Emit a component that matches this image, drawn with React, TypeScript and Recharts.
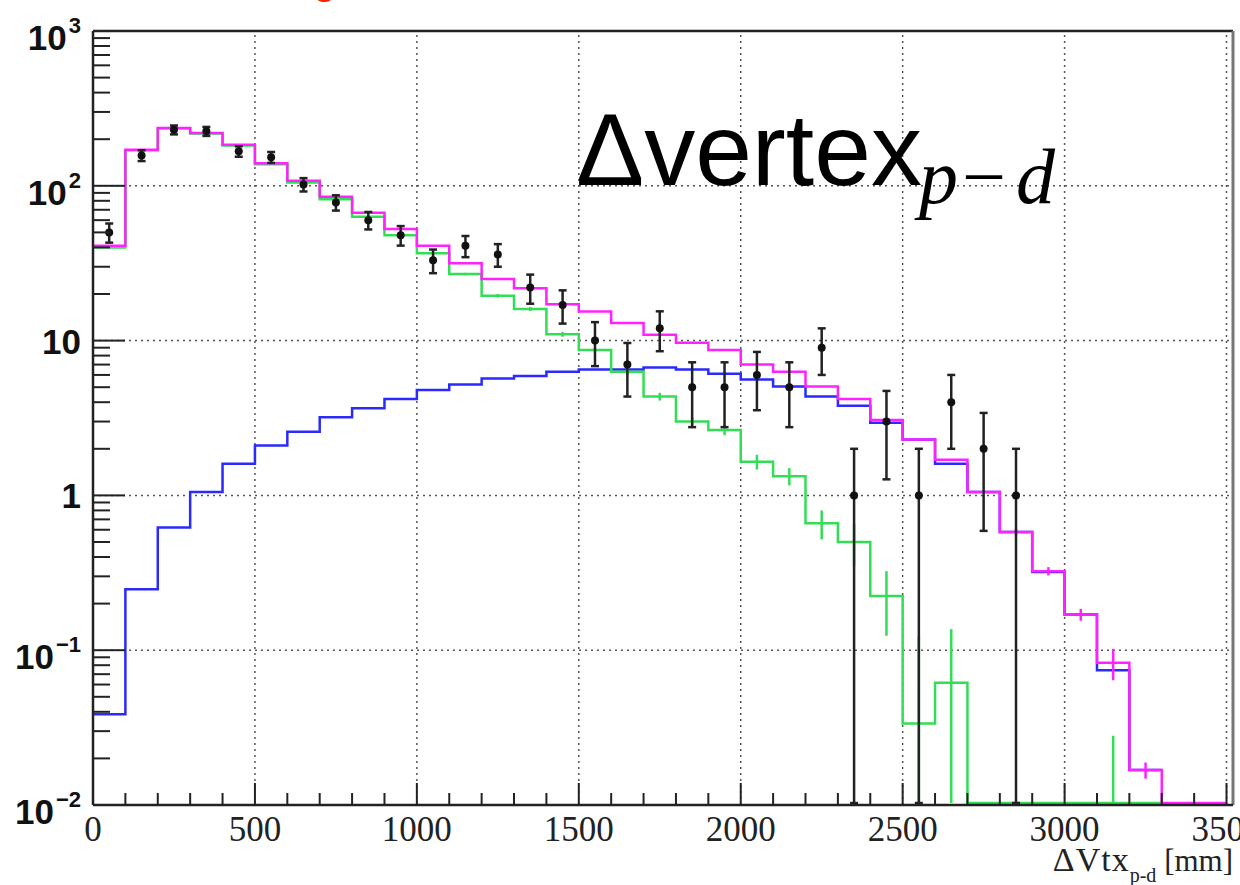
import { ComposedChart, Line, Scatter, ErrorBar, XAxis, YAxis, ReferenceLine } from 'recharts'

const BIN_W = 100
const X_MAX = 3520
const Y_MIN = 0.01
const Y_MAX = 1000
// empty bins are drawn just above the bottom axis so they stay visible
const FLOOR = 0.0103

// total prediction (magenta), bins of 100 mm from 0 to 3500
const totalVals = [
  41, 171, 236, 219, 184, 140, 108, 85, 67, 52.5,
  41, 31.6, 25, 21.8, 17.2, 15.4, 13, 10.9, 9.7, 8.7,
  7.0, 6.3, 5.05, 4.2, 3.07, 2.3, 1.7, 1.05, 0.58, 0.324,
  0.17, 0.083, 0.0168, 0, 0,
]
const totalErr = [
  0, 0, 0, 0, 0, 0, 0, 0, 0, 0,
  0, 0, 0, 0, 0, 0, 0, 0, 0, 0,
  0, 0, 0, 0, 0, 0, 0, 0, 0.03, 0.02,
  0.015, 0.019, 0.002, 0, 0,
]

// green component, bins from 0 to 3300
const greenVals = [
  40, 170, 235, 218, 182, 138, 105, 82, 63, 48,
  36.7, 26.9, 19.5, 16, 11, 8.7, 6.3, 4.35, 3.0, 2.65,
  1.65, 1.33, 0.66, 0.5, 0.224, 0.0336, 0.0617, 0, 0, 0,
  0, 0.005, 0,
]
const greenErr = [
  0, 0, 0, 0, 0, 0, 0, 0, 0, 0,
  0.5, 0.5, 0.5, 0.5, 0.4, 0.3, 0.3, 0.25, 0.2, 0.2,
  0.18, 0.17, 0.14, 0.15, 0.1, 0.09, 0.075, 0, 0, 0,
  0, 0.023, 0,
]

// blue component, bins from 0 to 3300
const blueVals = [
  0.0386, 0.248, 0.62, 1.05, 1.6, 2.1, 2.58, 3.2, 3.66, 4.2,
  4.8, 5.2, 5.7, 5.9, 6.3, 6.5, 6.5, 6.7, 6.5, 6.1,
  5.6, 5.05, 4.35, 3.8, 2.95, 2.3, 1.6, 1.05, 0.58, 0.32,
  0.17, 0.0743, 0.0168,
]

// data counts at bin centres (50, 150, ...) and their errors
const dataCounts = [
  50, 157, 230, 225, 167, 153, 102, 78, 60, 48,
  33, 41, 36, 22, 17, 10, 7, 12, 5, 5,
  6, 5, 9, 1, 3, 1, 4, 2, 1,
]
const dataErr = [
  7.07, 12.53, 15.17, 15, 12.92, 12.37, 10.1, 8.83, 7.75, 6.93,
  5.74, 6.4, 6, 4.69, 4.12, 3.16, 2.65, 3.46, 2.24, 2.24,
  2.45, 2.24, 3, 1, 1.73, 1, 2, 1.41, 1,
]

const xTickValues = Array.from({ length: 36 }, (_, i) => i * 100)
const xLabelled = [0, 500, 1000, 1500, 2000, 2500, 3000, 3500]
const yMajor = [0.01, 0.1, 1, 10, 100, 1000]
const yLabels: Record<string, { base: string; exp?: string }> = {
  '0.01': { base: '10', exp: '−2' },
  '0.1': { base: '10', exp: '−1' },
  '1': { base: '1' },
  '10': { base: '10' },
  '100': { base: '10', exp: '2' },
  '1000': { base: '10', exp: '3' },
}
const yTickValues: number[] = []
yMajor.forEach((d, i) => {
  yTickValues.push(d)
  if (i < yMajor.length - 1) for (let k = 2; k <= 9; k++) yTickValues.push(+(k * d).toPrecision(3))
})
const gridX = [500, 1000, 1500, 2000, 2500, 3000, 3500]
const gridY = [0.1, 1, 10, 100]

const toSteps = (vals: number[]) => [
  ...vals.map((v, i) => ({ x: i * BIN_W, y: Math.max(v, FLOOR) })),
  { x: vals.length * BIN_W, y: Math.max(vals[vals.length - 1], FLOOR) },
]

const toBars = (vals: number[], errs: number[]) =>
  vals
    .map((v, i) => {
      const yPlot = Math.max(v, FLOOR)
      const lo = Math.max(v - errs[i], FLOOR)
      const hi = v + errs[i]
      return { x: i * BIN_W + BIN_W / 2, y: yPlot, err: [Math.max(yPlot - lo, 0), Math.max(hi - yPlot, 0)], e: errs[i] }
    })
    .filter(p => p.e > 0)

const totalSteps = toSteps(totalVals)
const greenSteps = toSteps(greenVals)
const blueSteps = toSteps(blueVals)
const greenBars = toBars(greenVals, greenErr)
const totalBars = toBars(totalVals, totalErr)
const dataPoints = toBars(dataCounts, dataErr)

const AXIS = '#222'
const GRID = '#555'
const MAGENTA = '#ff22ff'
const BLUE = '#2a2aff'
const GREEN = '#33dd55'

const YTick = (props: any) => {
  const { x, y, payload } = props
  const v = payload.value
  const label = yLabels[String(v)]
  const major = !!label
  return (
    <g>
      <line x1={x} x2={x + (major ? 32 : 17)} y1={y} y2={y} stroke={AXIS} strokeWidth={2} />
      {label && !label.exp && (
        <text x={x - 12} y={y + 13} textAnchor="end" fontFamily="Liberation Sans, Arial" fontWeight="bold" fontSize={35} fill="#111">
          {label.base}
        </text>
      )}
      {label && label.exp && (
        <text x={x - 12} y={y + 19} textAnchor="end" fontFamily="Liberation Sans, Arial" fontWeight="bold" fontSize={35} fill="#111">
          <tspan>{label.base}</tspan>
          <tspan dy={-17} dx={2} fontSize={22}>{label.exp}</tspan>
        </text>
      )}
    </g>
  )
}

const XTick = (props: any) => {
  const { x, y, payload } = props
  const v = payload.value
  const major = v % 500 === 0
  return (
    <g>
      <line x1={x} x2={x} y1={y} y2={y - (major ? 22 : 12)} stroke={AXIS} strokeWidth={2} />
      {xLabelled.includes(v) && (
        <text x={x} y={y + 36} textAnchor="middle" fontFamily="Liberation Serif, Times New Roman" fontSize={35} fill="#222">
          {v}
        </text>
      )}
    </g>
  )
}

const Dot = (props: any) => {
  const { cx, cy } = props
  return <circle cx={cx} cy={cy} r={4} fill="#111" />
}
const NoDot = () => <g />

export default function App() {
  return (
    <div style={{ position: 'absolute', left: 0, top: 0, width: 1240, height: 885, background: '#fff', overflow: 'hidden' }}>
      <ComposedChart width={1240} height={885} margin={{ top: 31, right: 7, bottom: 0, left: 0 }}>
        <XAxis
          type="number"
          dataKey="x"
          domain={[0, X_MAX]}
          allowDataOverflow
          ticks={xTickValues}
          interval={0}
          tick={<XTick />}
          tickLine={false}
          tickSize={0}
          tickMargin={0}
          height={80}
          axisLine={{ stroke: AXIS, strokeWidth: 2.5 }}
        />
        <YAxis
          type="number"
          scale="log"
          domain={[Y_MIN, Y_MAX]}
          allowDataOverflow
          ticks={yTickValues}
          interval={0}
          tick={<YTick />}
          tickLine={false}
          tickSize={0}
          tickMargin={0}
          width={93}
          axisLine={{ stroke: AXIS, strokeWidth: 2.5 }}
        />
        {gridX.map(g => (
          <ReferenceLine key={'gx' + g} x={g} stroke={GRID} strokeDasharray="2 4" strokeWidth={1.5} />
        ))}
        {gridY.map(g => (
          <ReferenceLine key={'gy' + g} y={g} stroke={GRID} strokeDasharray="2 4" strokeWidth={1.5} />
        ))}
        <ReferenceLine y={Y_MAX} stroke={AXIS} strokeWidth={2.5} />
        <ReferenceLine x={X_MAX} stroke="#777" strokeWidth={3} />

        <Line data={blueSteps} dataKey="y" type="stepAfter" stroke={BLUE} strokeWidth={2.5} dot={false} activeDot={false} isAnimationActive={false} />
        <Line data={greenSteps} dataKey="y" type="stepAfter" stroke={GREEN} strokeWidth={2.5} dot={false} activeDot={false} isAnimationActive={false} />
        <Scatter data={greenBars} dataKey="y" shape={<NoDot />} isAnimationActive={false}>
          <ErrorBar dataKey="err" direction="y" width={0} stroke={GREEN} strokeWidth={2.5} />
        </Scatter>
        <Line data={totalSteps} dataKey="y" type="stepAfter" stroke={MAGENTA} strokeWidth={2.5} dot={false} activeDot={false} isAnimationActive={false} />
        <Scatter data={totalBars} dataKey="y" shape={<NoDot />} isAnimationActive={false}>
          <ErrorBar dataKey="err" direction="y" width={0} stroke={MAGENTA} strokeWidth={2.5} />
        </Scatter>
        <Scatter data={dataPoints} dataKey="y" shape={<Dot />} isAnimationActive={false}>
          <ErrorBar dataKey="err" direction="y" width={4} stroke="#222" strokeWidth={2.5} />
        </Scatter>
      </ComposedChart>

      <svg width={1240} height={885} style={{ position: 'absolute', left: 0, top: 0, pointerEvents: 'none' }}>
        <text x={314} y={-6} fill="#ff2200" fontFamily="Liberation Sans, Arial" fontWeight="bold" fontSize={36}>g</text>
        <text x={576} y={185} fontFamily="Liberation Sans, Arial" fontSize={102} fill="#000">Δvertex</text>
        <text y={203} fontFamily="Liberation Serif, Times New Roman" fontSize={78} fill="#000">
          <tspan x={919} fontStyle="italic">p</tspan>
          <tspan x={962}>−</tspan>
          <tspan x={1016} fontStyle="italic">d</tspan>
        </text>
        <text x={1233} y={871} textAnchor="end" fontFamily="Liberation Serif, Times New Roman" fontSize={31} fill="#222">
          <tspan fontSize={34} letterSpacing={1}>ΔVtx</tspan>
          <tspan fontSize={20} dy={11}>p-d</tspan>
          <tspan dy={-11}> [mm]</tspan>
        </text>
      </svg>
    </div>
  )
}
